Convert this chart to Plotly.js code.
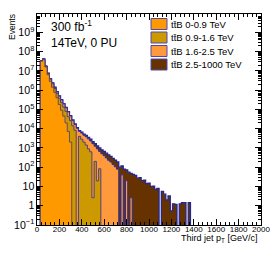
<!DOCTYPE html>
<html>
<head>
<meta charset="utf-8">
<script src="https://cdn.plot.ly/plotly-3.0.1.min.js"></script>
<style>html,body{margin:0;padding:0;background:#fff;}#chart{width:270px;height:259px;}</style>
</head>
<body>
<div id="chart"></div>
<script>
// Bin low edges of the third-jet pT histogram [GeV/c], width 20
const binLowEdges = [30,50,70,90,110,130,150,170,190,210,230,250,270,290,310,330,350,370,390,410,430,450,470,490,510,530,550,570,590,610,630,650,670,690,710,730,750,770,790,810,830,850,870,890,910,930,950,970,990,1010,1030,1050,1070,1090,1110,1130,1150,1170,1190,1210,1230,1250,1270,1290,1310,1330,1350,1370];
const binWidth = 20;

const seriesNames = ["tt\u0304B 0-0.9 TeV", "tt\u0304B 0.9-1.6 TeV", "tt\u0304B 1.6-2.5 TeV", "tt\u0304B 2.5-1000 TeV"];

// Events per bin, one array per HT sample (stacked in this order)
const ttB_0_09 = [3.16e7,3.80e7,1.585e7,6.31e6,2.82e6,1.41e6,7.59e5,3.98e5,1.78e5,8.91e4,4.47e4,2.0e4,7.08e3,2.0e3,0,0,0,0,0,0,0,0,0,0,0,0,0,0,0,0,0,0,0,0,0,0,0,0,0,0,0,0,0,0,0,0,0,0,0,0,0,0,0,0,0,0,0,0,0,0,0,0,0,0,0,0,0,0];
const ttB_09_16 = [7.6e5,2.27e6,1.33e6,9.3e5,9.0e5,7.25e5,4.43e5,2.78e5,2.02e5,1.35e5,8.7e4,5.9e4,3.46e4,2.43e4,1.41e4,8.32e3,0,3.98e3,2.82e3,2.0e3,1.41e3,891,631,2.6,200,19.5,83,0,0,0,0,0,0,0,0,0,0,0,0,0,0,0,0,0,0,0,0,0,0,0,0,0,0,0,0,0,0,0,0,0,0,0,0,0,0,0,0,0];
const ttB_16_25 = [3.7e5,9.4e5,4.0e5,2.6e5,2.2e5,2.33e5,1.78e5,1.37e5,1.10e5,8.5e4,6.3e4,4.36e4,3.24e4,1.94e4,1.28e4,8.3e3,1.05e4,3.26e3,3.07e3,2.58e3,2.39e3,2.06e3,1.66e3,1.66e3,1.03e3,872,578,501,398,302,229,186,138,105,79,0,40,0,20,0,2.6,0,0,0,0,0,0,0,0,0,0,0,0,0,0,0,0,0,0,0,0,0,0,0,0,0,0,0];
const ttB_25_1000 = [3.8e5,4.8e5,2.0e5,9.0e4,4.5e4,2.8e4,3.3e4,1.9e4,1.1e4,7.2e3,4.5e3,2.9e3,1.8e3,2.2e3,1.3e3,1.2e3,750,700,720,680,670,600,530,480,430,370,340,293,263,235,208,177,150,129,107,100,77,80,52,55,45,42,38,27,29,20,21,14,15,10,10.5,7,8,0,5.6,4.0,2.0,3.2,0.54,1.26,1.17,0,1.26,1.45,1.45,0,1.45,0];

const fillColors = ["#ff9900", "#cc9900", "#ff9a3c", "#663300"];
const lineColors = ["rgba(85,65,105,0.85)", "rgba(65,55,135,0.9)", "#2e2e9e", "#26268f"];

const series = [ttB_0_09, ttB_09_16, ttB_16_25, ttB_25_1000];
const FLOOR = 1e-3; // empty bins drawn below the axis minimum

// cumulative stack
const cum = [];
series.forEach((s, k) => {
  cum.push(s.map((v, i) => v + (k > 0 ? cum[k - 1][i] : 0)));
});

const xs = [binLowEdges[0]].concat(binLowEdges, [binLowEdges[binLowEdges.length - 1] + binWidth]);
const traces = [];
for (let k = series.length - 1; k >= 0; k--) {
  const ys = [FLOOR].concat(cum[k].map(v => v > 0 ? v : FLOOR), [FLOOR]);
  traces.push({
    type: "scatter", mode: "lines", x: xs, y: ys,
    line: {shape: "hv", color: lineColors[k], width: k === 3 ? 1.3 : 1},
    fill: "tozeroy", fillcolor: fillColors[k],
    hoverinfo: "skip", name: seriesNames[k]
  });
}

const W = 270, H = 259, L = 37, R = 9, T = 14, B = 34;
const pw = W - L - R, ph = H - T - B;
const px = x => (x - L) / pw;
const py = y => (H - B - y) / ph;
const FONT = "Liberation Sans, Arial, Helvetica, sans-serif";

const shapes = [];
const annotations = [];
const legRows = [24, 37.5, 51, 64.5];
seriesNames.forEach((n, k) => {
  shapes.push({type: "rect", xref: "paper", yref: "paper",
    x0: px(151), x1: px(167), y0: py(legRows[k] + 5.5), y1: py(legRows[k] - 5.5),
    fillcolor: fillColors[k], line: {color: "#4a4ab0", width: 1}});
  annotations.push({xref: "paper", yref: "paper", x: px(169), y: py(legRows[k]),
    xanchor: "left", yanchor: "middle", showarrow: false, text: n,
    font: {family: FONT, size: 9.5, color: "#000"}});
});
annotations.push({xref: "paper", yref: "paper", x: px(49), y: py(26), xanchor: "left", yanchor: "middle",
  showarrow: false, text: "300 fb<sup>-1</sup>", font: {family: FONT, size: 12, color: "#000"}});
annotations.push({xref: "paper", yref: "paper", x: px(49), y: py(43.5), xanchor: "left", yanchor: "middle",
  showarrow: false, text: "14TeV, 0 PU", font: {family: FONT, size: 12, color: "#000"}});
annotations.push({xref: "paper", yref: "paper", x: px(259), y: py(238), xanchor: "right", yanchor: "middle",
  showarrow: false, text: "Third jet p<sub>T</sub> [GeV/c]", font: {family: FONT, size: 9, color: "#000"}});
annotations.push({xref: "paper", yref: "paper", x: px(12), y: py(12), xanchor: "center", yanchor: "top",
  textangle: -90, showarrow: false, text: "Events", font: {family: FONT, size: 8.5, color: "#000"}});

const axCommon = {
  ticks: "inside", ticklen: 6, tickwidth: 1, tickcolor: "#000",
  showline: true, linecolor: "#000", linewidth: 1, mirror: "allticks",
  showgrid: false, zeroline: false
};

const layout = {
  width: W, height: H,
  margin: {l: L, r: R, t: T, b: B, pad: 0},
  paper_bgcolor: "#fff", plot_bgcolor: "#fff",
  showlegend: false,
  xaxis: Object.assign({}, axCommon, {
    range: [0, 2000], tick0: 0, dtick: 200, ticklabelstandoff: -4, ticklabeloverflow: "allow",
    tickfont: {family: FONT, size: 8, color: "#000"},
    minor: {dtick: 40, ticks: "inside", ticklen: 3, tickcolor: "#000", showgrid: false}
  }),
  yaxis: Object.assign({}, axCommon, {
    type: "log", range: [-1, 9.95], dtick: 1, exponentformat: "power",
    tickfont: {family: FONT, size: 8.5, color: "#000"},
    minor: {dtick: "D1", ticks: "inside", ticklen: 3, tickcolor: "#000", showgrid: false}
  }),
  shapes: shapes,
  annotations: annotations
};

Plotly.newPlot("chart", traces, layout, {staticPlot: true, displayModeBar: false});
</script>
</body>
</html>
